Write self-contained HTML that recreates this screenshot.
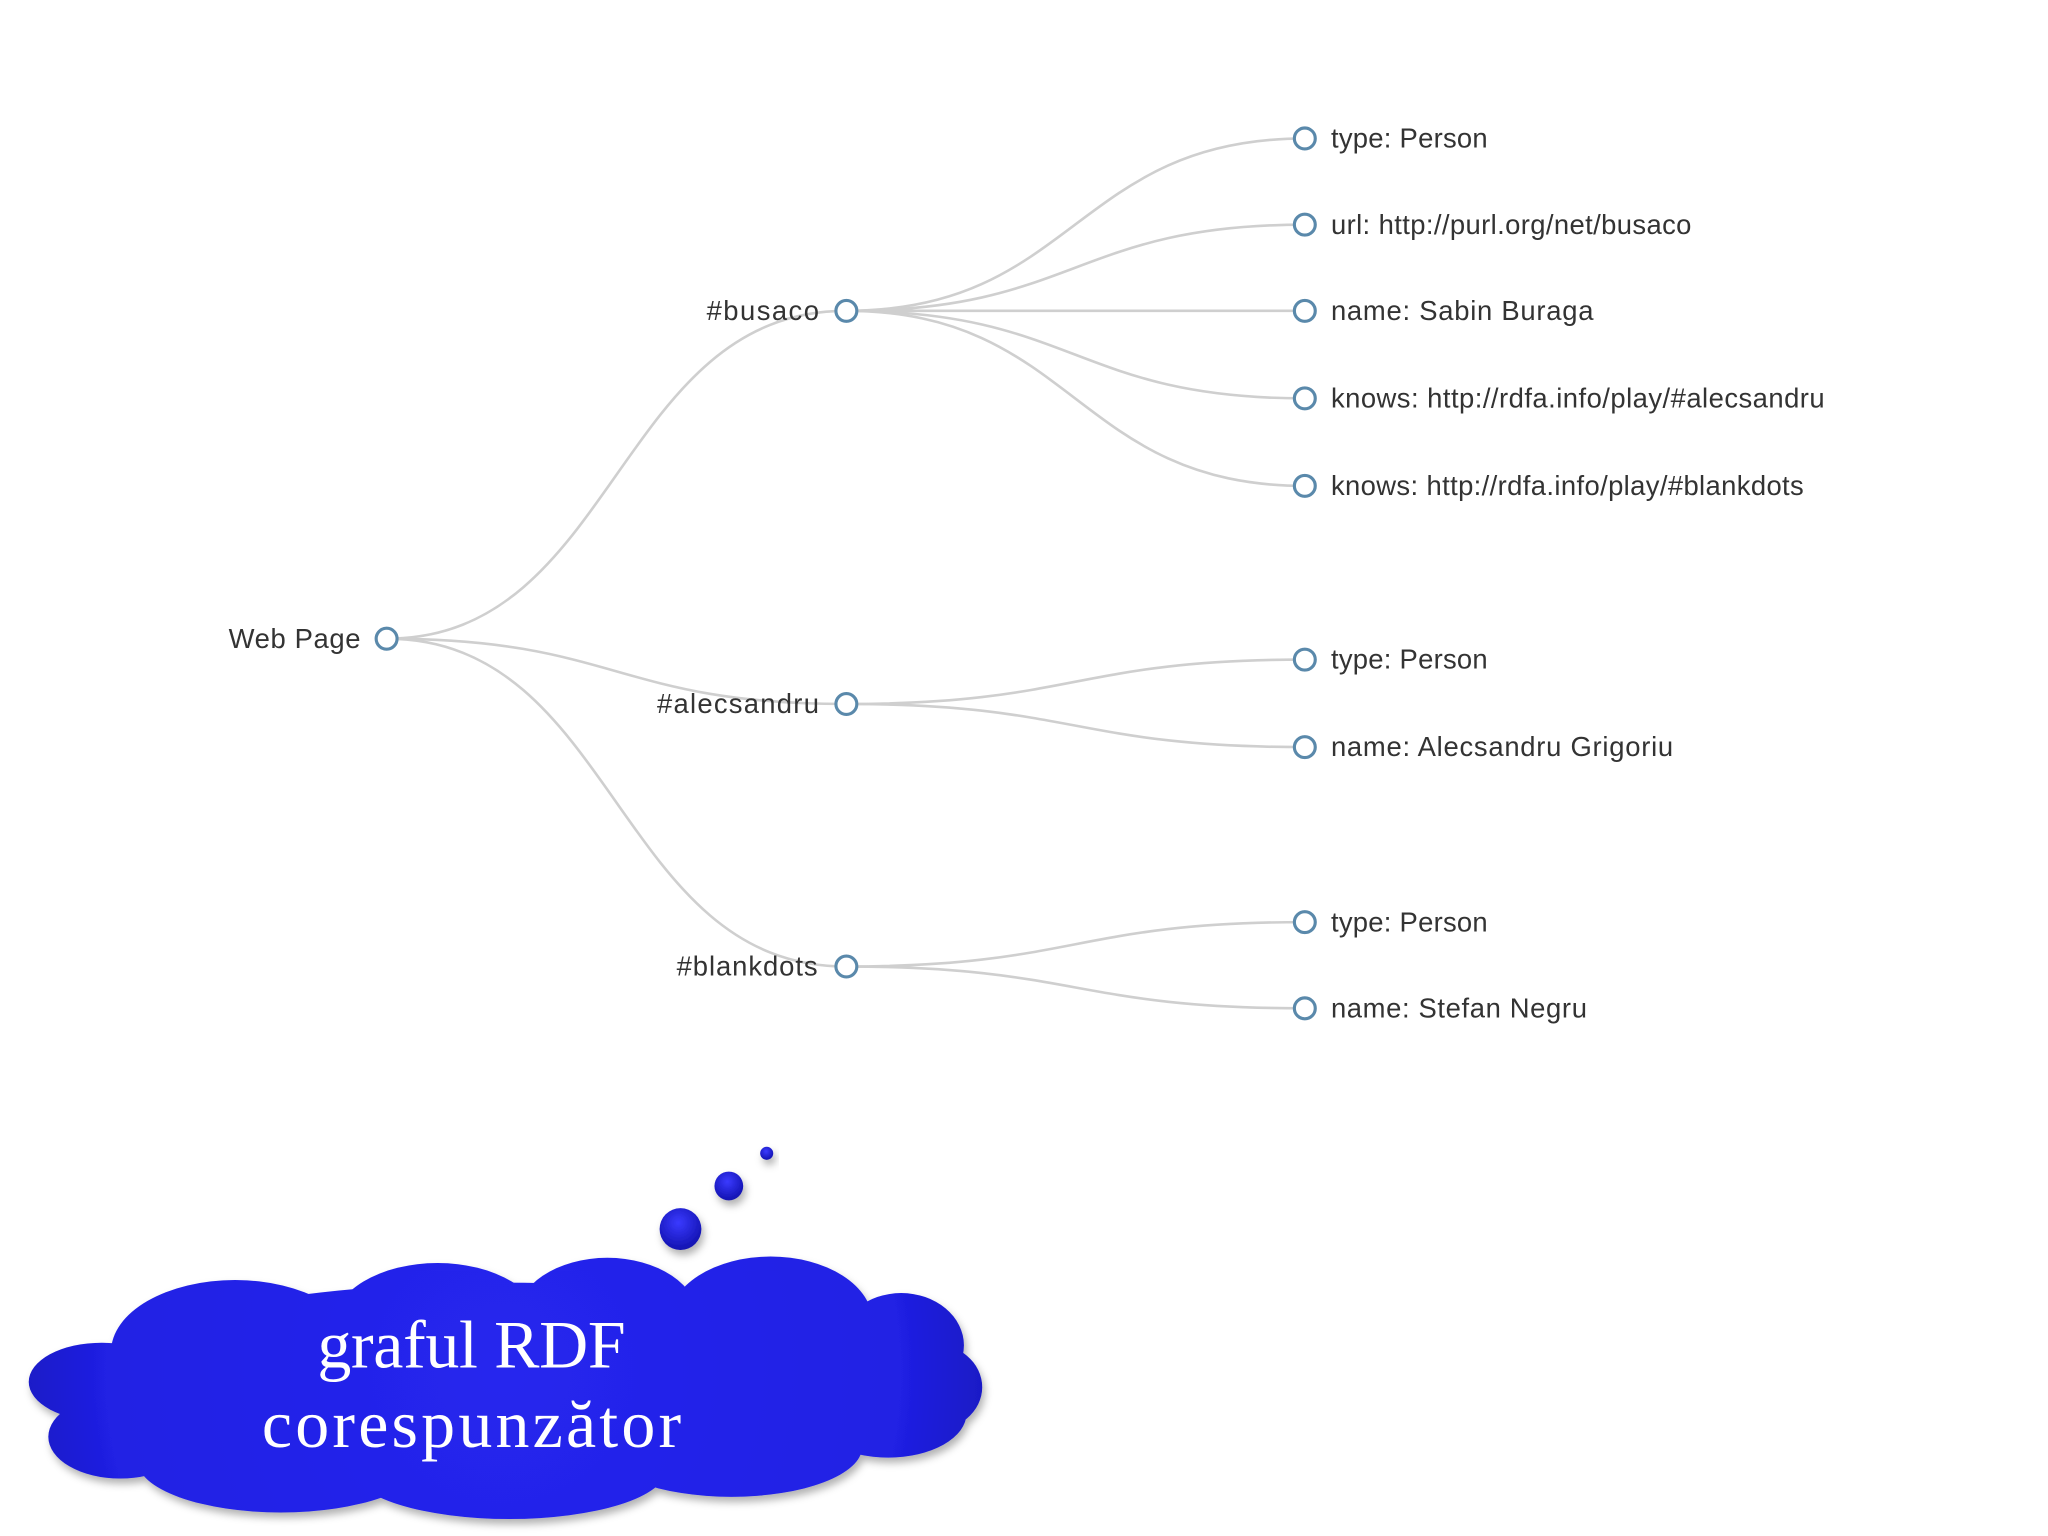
<!DOCTYPE html>
<html><head><meta charset="utf-8"><style>
html,body{margin:0;padding:0;background:#fff}
svg{display:block}
.t{font-family:"Liberation Sans",Arial,sans-serif;font-size:21px;fill:#333}
.l{fill:none;stroke:#cfcfcf;stroke-width:2}
.n{fill:#fff;stroke:#5a89ab;stroke-width:2.4}
</style></head><body>
<svg width="2048" height="1536" viewBox="0 0 1568 1176" xmlns="http://www.w3.org/2000/svg">
<defs>
<radialGradient id="g" gradientUnits="userSpaceOnUse" cx="385" cy="1050" r="380"><stop offset="0" stop-color="#2626ee"/><stop offset="0.8" stop-color="#2020e4"/><stop offset="1" stop-color="#1818c0"/></radialGradient>
<radialGradient id="b" cx="45%" cy="35%" r="65%"><stop offset="0" stop-color="#3a3aff"/><stop offset="1" stop-color="#1212b0"/></radialGradient>
<filter id="s" x="-5%" y="-10%" width="110%" height="125%"><feDropShadow dx="2" dy="4" stdDeviation="3" flood-color="#000" flood-opacity="0.3"/></filter>
</defs>
<g class="l">
<path d="M296,489 C472,489 472,238 648,238"/>
<path d="M296,489 C472,489 472,539 648,539"/>
<path d="M296,489 C472,489 472,740 648,740"/>
<path d="M648,238 C823,238 823,106 999,106"/>
<path d="M648,238 C823,238 823,172 999,172"/>
<path d="M648,238 L999,238"/>
<path d="M648,238 C823,238 823,305 999,305"/>
<path d="M648,238 C823,238 823,372 999,372"/>
<path d="M648,539 C823,539 823,505 999,505"/>
<path d="M648,539 C823,539 823,572 999,572"/>
<path d="M648,740 C823,740 823,706 999,706"/>
<path d="M648,740 C823,740 823,772 999,772"/>
</g>
<g class="n">
<circle cx="296" cy="489" r="8"/><circle cx="648" cy="238" r="8"/><circle cx="648" cy="539" r="8"/><circle cx="648" cy="740" r="8"/>
<circle cx="999" cy="106" r="8"/><circle cx="999" cy="172" r="8"/><circle cx="999" cy="238" r="8"/><circle cx="999" cy="305" r="8"/><circle cx="999" cy="372" r="8"/>
<circle cx="999" cy="505" r="8"/><circle cx="999" cy="572" r="8"/><circle cx="999" cy="706" r="8"/><circle cx="999" cy="772" r="8"/>
</g>
<g class="t">
<text x="175" y="496" textLength="101">Web Page</text>
<text x="541" y="245" textLength="86">#busaco</text>
<text x="503" y="546" textLength="124">#alecsandru</text>
<text x="518" y="747" textLength="108">#blankdots</text>
<text x="1019" y="113" textLength="120">type: Person</text>
<text x="1019" y="179" textLength="276">url: http://purl.org/net/busaco</text>
<text x="1019" y="245" textLength="201">name: Sabin Buraga</text>
<text x="1019" y="312" textLength="378">knows: http://rdfa.info/play/#alecsandru</text>
<text x="1019" y="379" textLength="362">knows: http://rdfa.info/play/#blankdots</text>
<text x="1019" y="512" textLength="120">type: Person</text>
<text x="1019" y="579" textLength="262">name: Alecsandru Grigoriu</text>
<text x="1019" y="713" textLength="120">type: Person</text>
<text x="1019" y="779" textLength="196">name: Stefan Negru</text>
</g>
<g fill="url(#b)" filter="url(#s)">
<circle cx="521" cy="941" r="16"/><circle cx="558" cy="908" r="11"/><circle cx="587" cy="883" r="5"/>
</g>
<g fill="url(#g)" filter="url(#s)">
<ellipse cx="385" cy="1062" rx="330" ry="80"/>
<ellipse cx="180" cy="1035" rx="95" ry="55"/>
<ellipse cx="335" cy="1015" rx="80" ry="48"/>
<ellipse cx="465" cy="1010" rx="70" ry="47"/>
<ellipse cx="590" cy="1012" rx="78" ry="50"/>
<ellipse cx="690" cy="1030" rx="48" ry="40"/>
<ellipse cx="712" cy="1062" rx="40" ry="34"/>
<ellipse cx="78" cy="1058" rx="56" ry="30"/>
<ellipse cx="92" cy="1100" rx="55" ry="32"/>
<ellipse cx="215" cy="1118" rx="110" ry="40"/>
<ellipse cx="390" cy="1125" rx="120" ry="38"/>
<ellipse cx="560" cy="1108" rx="100" ry="38"/>
<ellipse cx="680" cy="1082" rx="60" ry="34"/>
</g>
<g font-family="'Liberation Serif',serif" font-size="52" fill="#fff" text-anchor="middle">
<text x="361" y="1047" textLength="236">graful RDF</text>
<text x="361" y="1108" textLength="321">corespunzător</text>
</g>
</svg>
</body></html>
